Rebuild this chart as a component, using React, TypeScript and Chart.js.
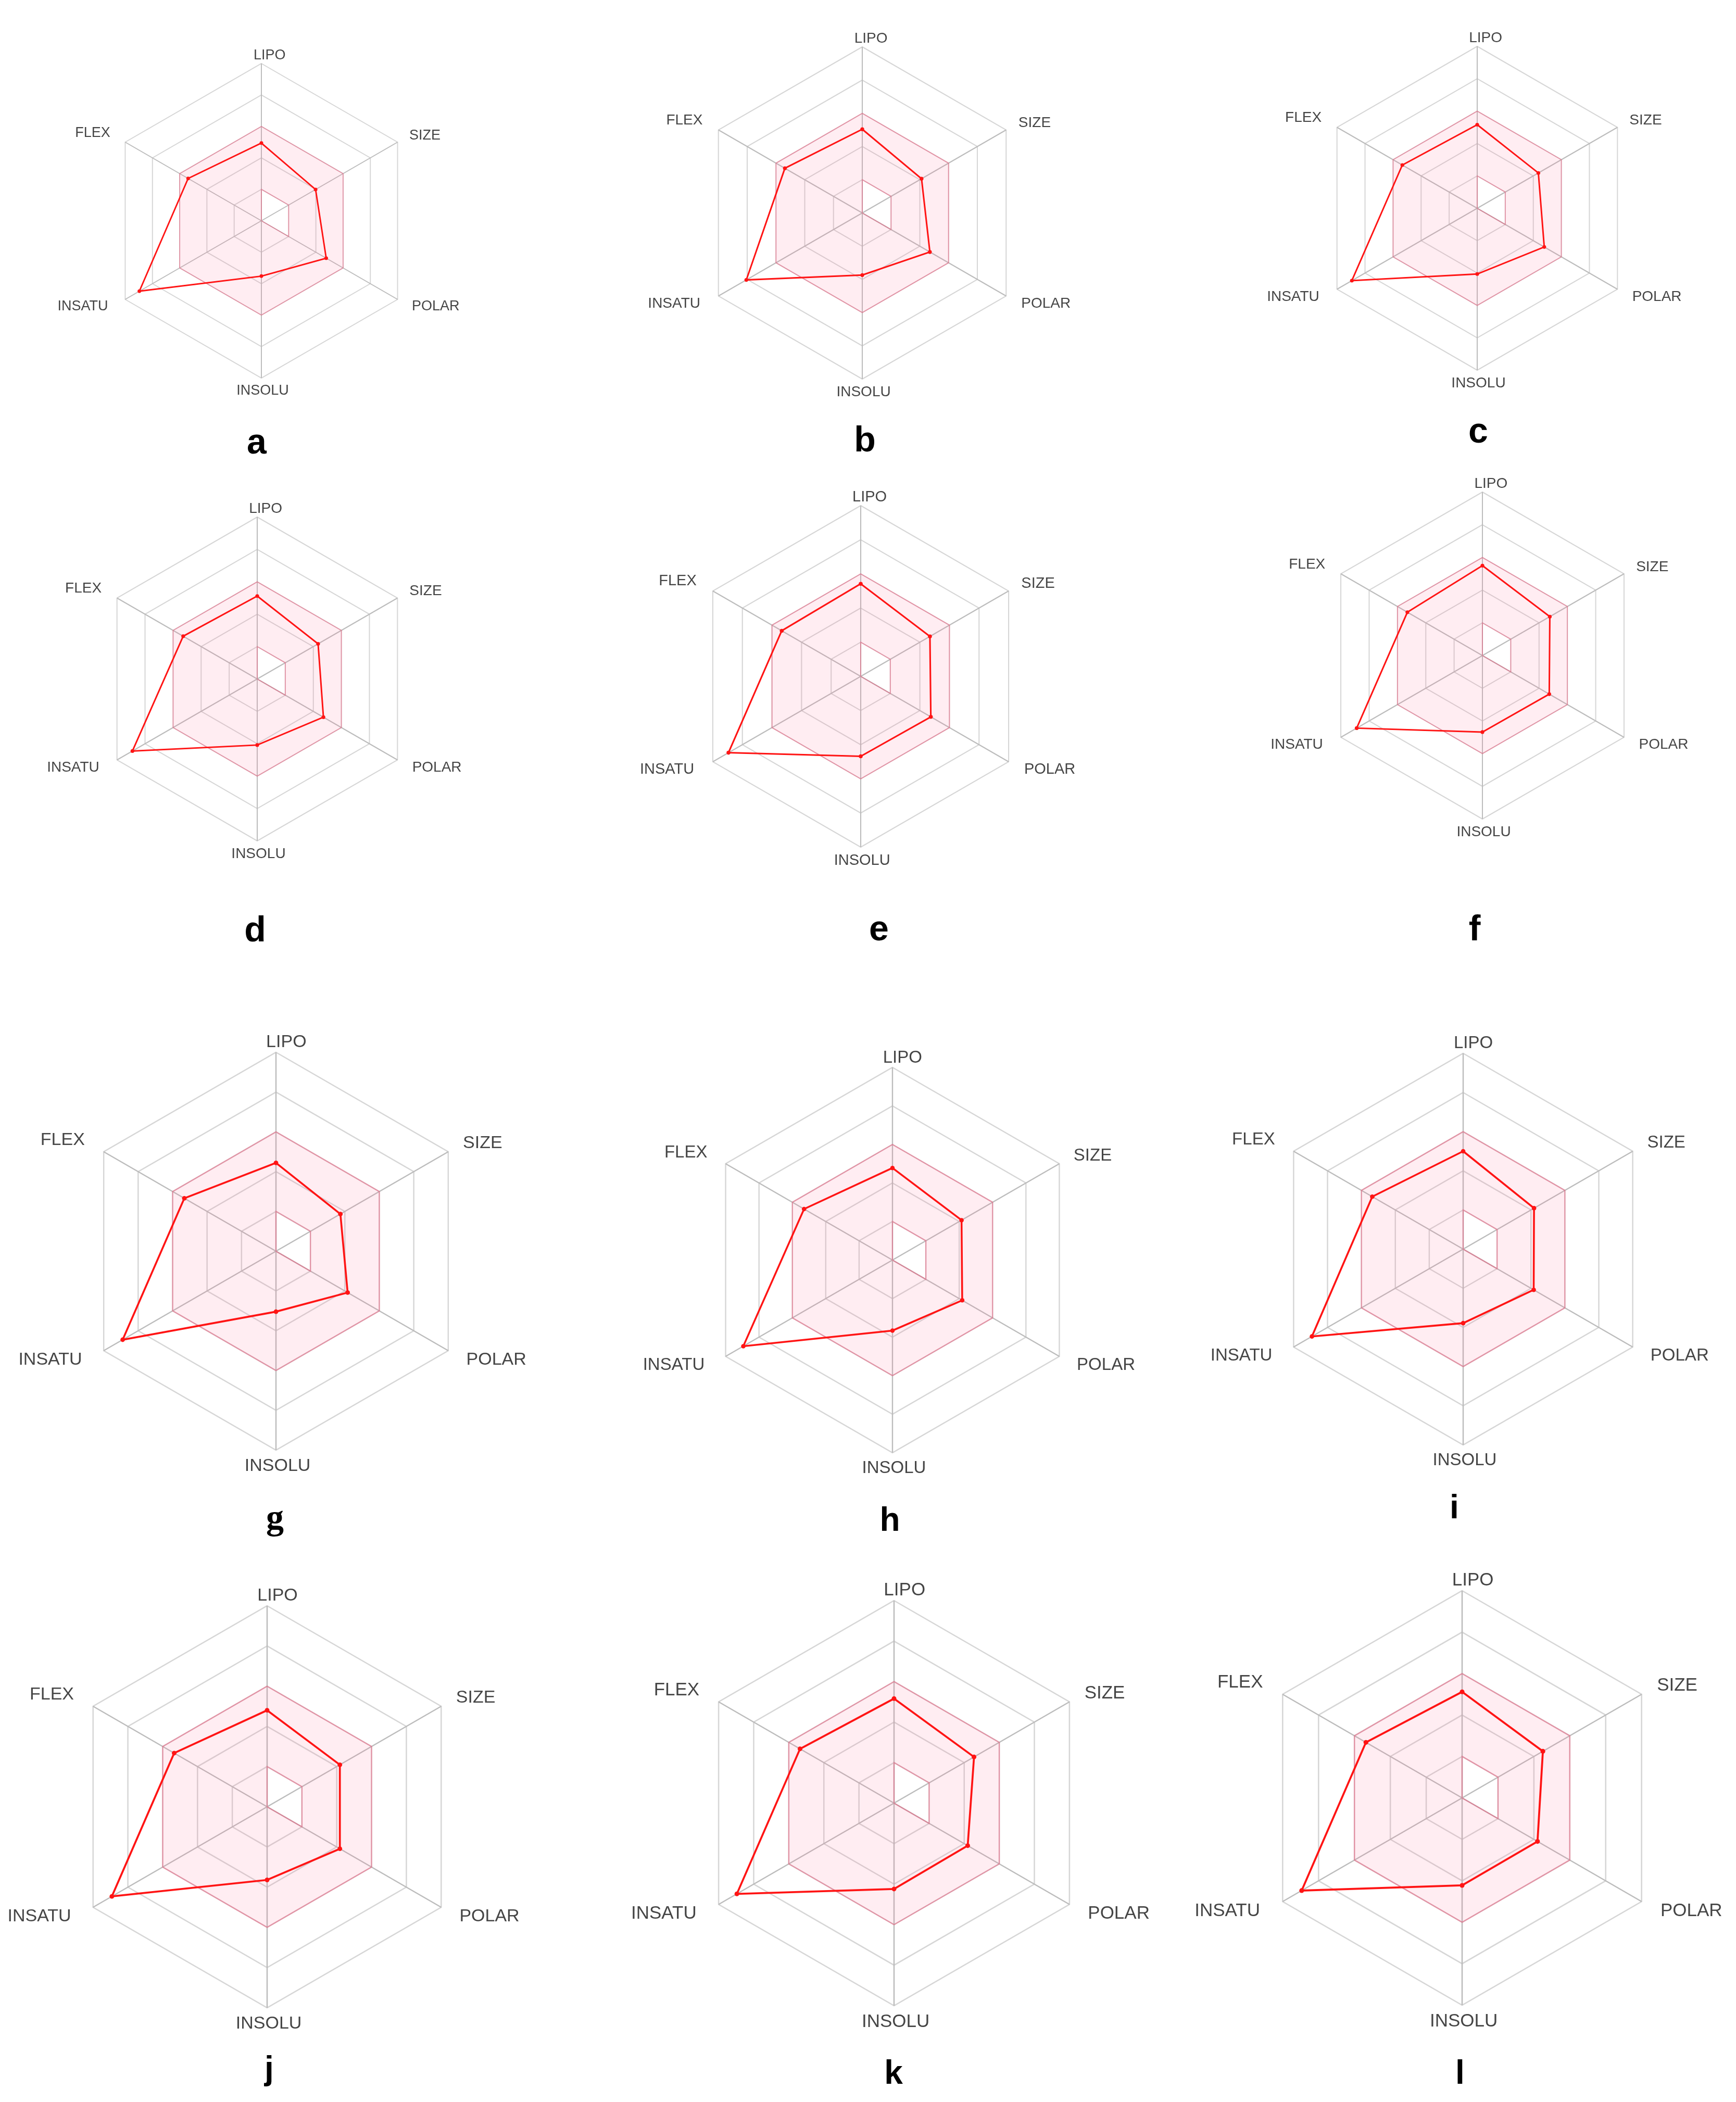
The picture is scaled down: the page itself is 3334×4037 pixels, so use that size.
import React, { useEffect, useRef } from 'react';
import { Chart, registerables } from 'chart.js';

Chart.register(...registerables);

// ---- data ----
const axisLabels = ['LIPO', 'SIZE', 'POLAR', 'INSOLU', 'INSATU', 'FLEX'];
const optimalUpper = [3, 3, 3, 3, 3, 3];
const optimalLower = [1, 1, 1, 0, 0, 0];
const scaleMin = 0;
const scaleMax = 5;
const panelLetters = ['a', 'b', 'c', 'd', 'e', 'f', 'g', 'h', 'i', 'j', 'k', 'l'];

const valuesA = [2.47, 1.99, 2.38, 1.76, 4.48, 2.69];
const valuesB = [2.52, 2.06, 2.35, 1.87, 4.03, 2.69];
const valuesC = [2.58, 2.18, 2.39, 2.03, 4.47, 2.67];
const valuesD = [2.56, 2.17, 2.36, 2.04, 4.45, 2.64];
const valuesE = [2.71, 2.34, 2.37, 2.34, 4.47, 2.67];
const valuesF = [2.75, 2.38, 2.36, 2.34, 4.44, 2.65];
const valuesG = [2.22, 1.87, 2.08, 1.52, 4.45, 2.66];
const valuesH = [2.39, 2.07, 2.09, 1.83, 4.47, 2.65];
const valuesI = [2.5, 2.09, 2.08, 1.89, 4.46, 2.68];
const valuesJ = [2.4, 2.09, 2.09, 1.82, 4.46, 2.67];
const valuesK = [2.58, 2.28, 2.1, 2.12, 4.48, 2.68];
const valuesL = [2.56, 2.25, 2.1, 2.11, 4.47, 2.68];

const seriesByPanel = [valuesA, valuesB, valuesC, valuesD, valuesE, valuesF, valuesG, valuesH, valuesI, valuesJ, valuesK, valuesL];

// ---- layout (centre, radius, panel letter position) ----
const layout = [
  { cx: 502, cy: 424, r: 302, lx: 493, ly: 871, fs: 68, serif: false },
  { cx: 1656, cy: 409, r: 319, lx: 1661, ly: 867, fs: 68, serif: false },
  { cx: 2837, cy: 400, r: 311, lx: 2839, ly: 850, fs: 68, serif: false },
  { cx: 494, cy: 1304, r: 311, lx: 490, ly: 1808, fs: 68, serif: false },
  { cx: 1653, cy: 1299, r: 328, lx: 1688, ly: 1806, fs: 68, serif: false },
  { cx: 2847, cy: 1259, r: 314, lx: 2832, ly: 1806, fs: 68, serif: false },
  { cx: 530, cy: 2403, r: 382, lx: 528, ly: 2937, fs: 68, serif: true },
  { cx: 1714, cy: 2420, r: 370, lx: 1709, ly: 2940, fs: 64, serif: false },
  { cx: 2810, cy: 2399, r: 376, lx: 2793, ly: 2916, fs: 64, serif: false },
  { cx: 513, cy: 3470, r: 386, lx: 517, ly: 3994, fs: 64, serif: false },
  { cx: 1717, cy: 3463, r: 389, lx: 1716, ly: 4002, fs: 64, serif: false },
  { cx: 2808, cy: 3453, r: 398, lx: 2804, ly: 4002, fs: 64, serif: false },
];

// label placement relative to each outer vertex, in units of radius
const labelPlacement = [
  { dx: 0.052, dy: -0.05, align: 'center' },
  { dx: 0.074, dy: -0.042, align: 'left' },
  { dx: 0.091, dy: 0.046, align: 'left' },
  { dx: 0.008, dy: 0.08, align: 'center' },
  { dx: -0.109, dy: 0.046, align: 'right' },
  { dx: -0.095, dy: -0.058, align: 'right' },
];

const pointLabelPlugin = {
  id: 'radarPointLabels',
  afterDraw(chart: any) {
    const scale = chart.scales.r;
    const R = scale.drawingArea;
    const ctx = chart.ctx;
    ctx.save();
    ctx.fillStyle = '#454545';
    ctx.font = `${Math.round(R * 0.089)}px "Liberation Sans", Arial, sans-serif`;
    ctx.textBaseline = 'middle';
    (chart.data.labels as string[]).forEach((lab, i) => {
      const p = scale.getPointPosition(i, R);
      const o = labelPlacement[i];
      ctx.textAlign = o.align;
      ctx.fillText(lab, p.x + o.dx * R, p.y + o.dy * R);
    });
    ctx.restore();
  },
};

function RadarPanel({ idx }: { idx: number }) {
  const ref = useRef<HTMLCanvasElement | null>(null);
  const L = layout[idx];
  const R = L.r;
  const P = Math.round(R * 0.42);
  const S = 2 * R + 2 * P;

  useEffect(() => {
    if (!ref.current) return;
    const red = '#ff1414';
    const band = 'rgba(240, 60, 100, 0.4)';
    const chart = new Chart(ref.current, {
      type: 'radar',
      data: {
        labels: axisLabels,
        datasets: [
          {
            data: seriesByPanel[idx],
            borderColor: red,
            backgroundColor: red,
            pointBackgroundColor: red,
            pointBorderColor: red,
            pointRadius: R * 0.0115,
            pointBorderWidth: 0,
            borderWidth: R * 0.0095,
            fill: false,
            tension: 0,
          },
          {
            data: optimalUpper,
            borderColor: band,
            backgroundColor: 'rgba(255, 105, 150, 0.12)',
            borderWidth: R * 0.006,
            pointRadius: 0,
            fill: '+1',
            tension: 0,
          },
          {
            data: optimalLower,
            borderColor: band,
            backgroundColor: 'rgba(0,0,0,0)',
            borderWidth: R * 0.006,
            pointRadius: 0,
            fill: false,
            tension: 0,
          },
        ],
      },
      options: {
        responsive: false,
        animation: false,
        devicePixelRatio: 1,
        layout: { padding: P },
        plugins: {
          legend: { display: false },
          tooltip: { enabled: false },
        },
        scales: {
          r: {
            min: scaleMin,
            max: scaleMax,
            ticks: { display: false, stepSize: 1 },
            grid: { color: '#d6d6d6', lineWidth: R * 0.0065 },
            angleLines: { color: '#bcbcbc', lineWidth: R * 0.0065 },
            pointLabels: { display: false },
          },
        },
      },
      plugins: [pointLabelPlugin],
    } as any);
    return () => chart.destroy();
  }, [idx]);

  return (
    <canvas
      ref={ref}
      width={S}
      height={S}
      style={{ position: 'absolute', left: L.cx - S / 2, top: L.cy - S / 2, width: S, height: S }}
    />
  );
}

function PanelLetter({ idx }: { idx: number }) {
  const L = layout[idx];
  const asc = L.serif ? 0.8375 : 0.8465;
  return (
    <div
      style={{
        position: 'absolute',
        left: L.lx,
        top: L.ly - asc * L.fs,
        transform: 'translateX(-50%)',
        fontFamily: L.serif ? '"Liberation Serif", "Times New Roman", serif' : '"Liberation Sans", Arial, sans-serif',
        fontWeight: 'bold',
        fontSize: L.fs,
        lineHeight: `${L.fs}px`,
        color: '#000',
        whiteSpace: 'nowrap',
      }}
    >
      {panelLetters[idx]}
    </div>
  );
}

export default function App() {
  return (
    <div
      style={{
        position: 'absolute',
        left: 0,
        top: 0,
        width: 3334,
        height: 4037,
        background: '#ffffff',
        overflow: 'hidden',
      }}
    >
      {panelLetters.map((_, i) => (
        <RadarPanel key={'c' + i} idx={i} />
      ))}
      {panelLetters.map((_, i) => (
        <PanelLetter key={'l' + i} idx={i} />
      ))}
    </div>
  );
}
